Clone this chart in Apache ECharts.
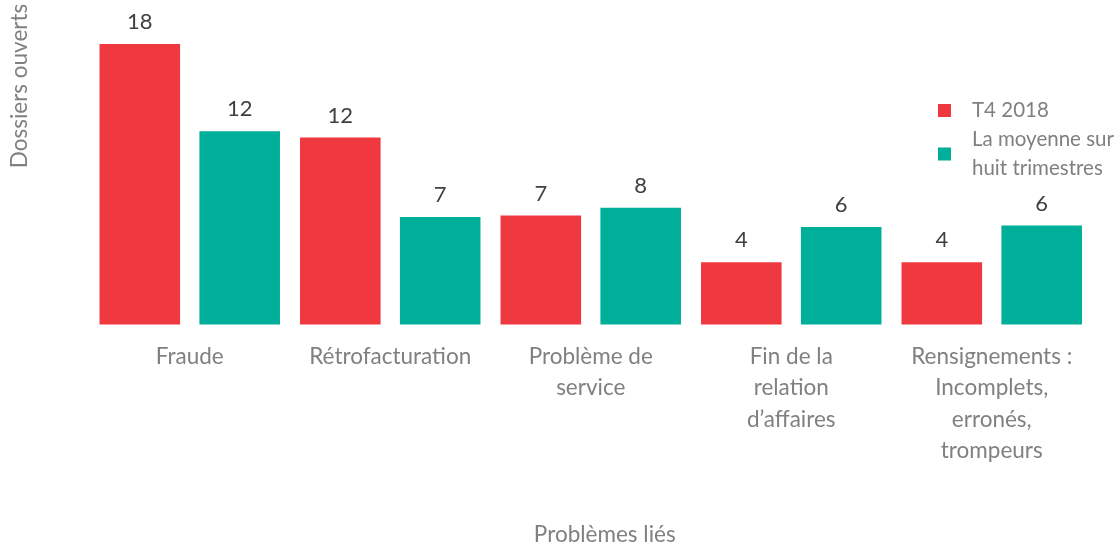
<!DOCTYPE html>
<html lang="fr">

<head>
    <meta charset="UTF-8">
    <title>Dossiers ouverts</title>
    <script src="https://cdn.jsdelivr.net/npm/echarts@6/dist/echarts.min.js"></script>
    <style>
        html, body {
            margin: 0;
            padding: 0;
            background: #fff;
        }

        #container {
            width: 1118px;
            height: 546px;
        }
    </style>
</head>

<body>
    <div id="container"></div>
</body>
<script>
    var categories = ['Fraude', 'Rétrofacturation', 'Problème de\nservice', 'Fin de la\nrelation\nd’affaires', 'Rensignements :\nIncomplets,\nerronés,\ntrompeurs'];
    var seriesNames = ['T4 2018', 'La moyenne sur\nhuit trimestres'];
    var t4Values = [18, 12, 7, 4, 4];
    var avgValues = [12.4, 6.9, 7.5, 6.25, 6.35];
    var colors = ['#EF3840', '#00AF9A'];

    var font = 'Lato, "Liberation Sans", sans-serif';
    var gray = '#808080';

    var chartDom = document.getElementById('container');
    var myChart = echarts.init(chartDom);

    var barLabel = {
        show: true,
        position: 'top',
        distance: 11,
        color: '#404040',
        fontFamily: font,
        fontSize: 22,
        formatter: function (p) {
            return Math.round(p.value);
        }
    };

    var option = {
        animation: false,
        color: colors,
        legend: {
            orient: 'vertical',
            left: 933,
            top: 91,
            itemWidth: 13,
            itemHeight: 13,
            itemGap: 0,
            icon: 'rect',
            textStyle: {
                color: gray,
                fontFamily: font,
                fontSize: 20.5,
                lineHeight: 29,
                padding: [0, 0, 0, 16]
            },
            data: seriesNames
        },
        grid: {
            left: 89.5,
            right: 26,
            top: 44,
            bottom: 221.5,
            outerBoundsMode: 'none'
        },
        graphic: [{
            type: 'text',
            x: 20,
            y: 86,
            rotation: Math.PI / 2,
            style: {
                text: 'Dossiers ouverts',
                fill: gray,
                font: '22.5px ' + font,
                align: 'center',
                verticalAlign: 'middle'
            }
        }],
        xAxis: {
            type: 'category',
            data: categories,
            name: 'Problèmes liés',
            nameLocation: 'middle',
            nameGap: 199,
            nameTextStyle: {
                color: gray,
                fontFamily: font,
                fontSize: 22.5,
                padding: [0, 0, 0, 28]
            },
            axisLine: { show: false },
            axisTick: { show: false },
            axisLabel: {
                interval: 0,
                margin: 16,
                color: gray,
                fontFamily: font,
                fontSize: 22.5,
                lineHeight: 31.5
            }
        },
        yAxis: {
            type: 'value',
            min: 0,
            max: 18,
            show: false
        },
        series: [
            {
                name: seriesNames[0],
                type: 'bar',
                data: t4Values,
                barGap: '24%',
                barCategoryGap: '10%',
                label: barLabel
            },
            {
                name: seriesNames[1],
                type: 'bar',
                data: avgValues,
                barGap: '24%',
                barCategoryGap: '10%',
                label: barLabel
            }
        ]
    };

    myChart.setOption(option);
</script>

</html>
